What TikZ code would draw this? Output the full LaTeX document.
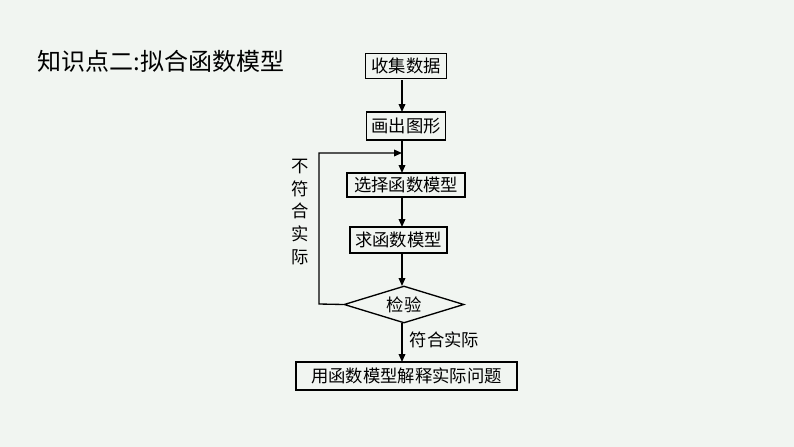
\documentclass[tikz,border=0pt]{standalone}
\usepackage{fontspec}
\newfontfamily\cjk{Noto Sans CJK SC}
\newfontfamily\cjks{Noto Sans CJK SC}
\usetikzlibrary{shapes.geometric,arrows.meta}
\definecolor{bg}{HTML}{F1F5F1}
\tikzset{box/.style={draw,line width=1pt,inner sep=0pt,font=\cjk\fontsize{13}{13}\selectfont},
arr/.style={line width=1pt,-{Triangle[length=6pt,width=5pt]}}}
\begin{document}
\begin{tikzpicture}[x=0.75pt,y=-0.75pt]
\fill[bg] (0,0) rectangle (794,447);
\useasboundingbox (0,0) rectangle (794,447);
\node[anchor=west,font=\cjk\fontsize{18}{18}\selectfont] (title) at (33,61) {知识点二:拟合函数模型};
\node[box,minimum width=60.75pt,minimum height=18.75pt] (b1) at (406,66) {收集数据};
\node[box,minimum width=59.25pt,minimum height=21pt] (b2) at (406,126) {画出图形};
\node[box,minimum width=88.5pt,minimum height=18pt] (b3) at (406,185) {选择函数模型};
\node[box,minimum width=72.75pt,minimum height=19.5pt] (b4) at (398.5,240) {求函数模型};
\node[box,diamond,aspect=3.2,minimum width=90pt,minimum height=27.75pt] (d) at (404,304.5) {检验};
\node[box,minimum width=165.75pt,minimum height=21pt] (b5) at (406.5,376) {用函数模型解释实际问题};
\coordinate (c) at (402,153);
\coordinate (l) at (319,153);
\draw[arr] (402,80) -- (402,112);
\draw[arr] (402,140) -- (402,173);
\draw[arr] (402,197) -- (402,227);
\draw[arr] (402,253) -- (402,286);
\draw[arr] (402,323) -- (402,362);
\draw[arr] (d.west) -- (319,304) -- (l) -- (c);
\node[font=\cjk\fontsize{13}{17}\selectfont,align=center] (nf) at (300,212) {不\\符\\合\\实\\际};
\node[anchor=west,font=\cjk\fontsize{13}{13}\selectfont] (yf) at (405,340) {符合实际};
\end{tikzpicture}
\end{document}
